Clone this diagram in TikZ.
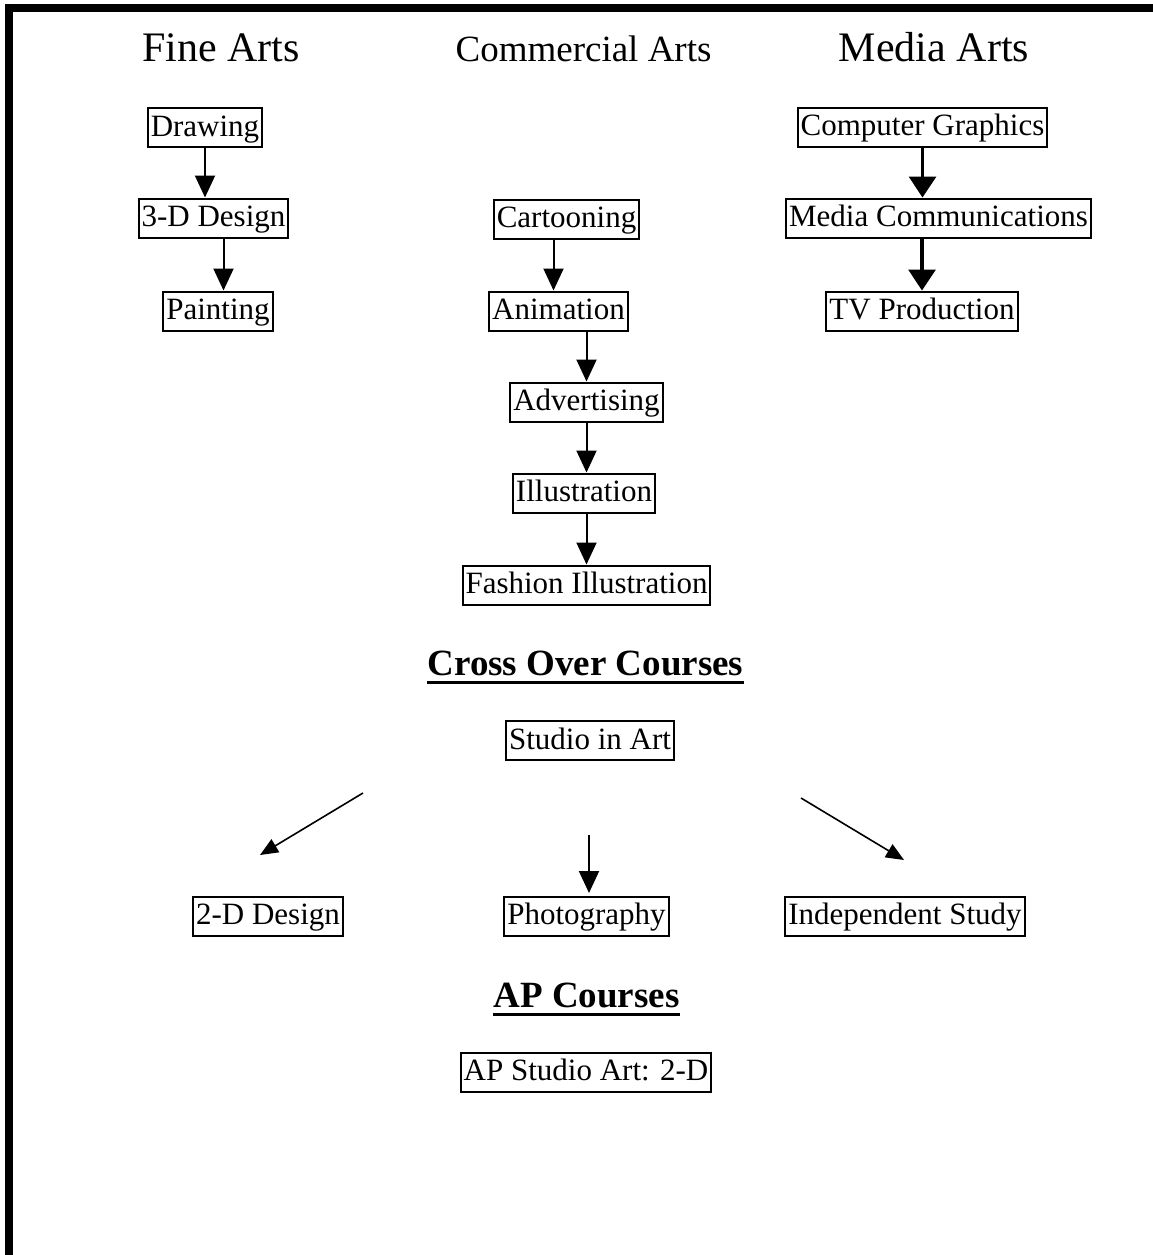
\documentclass[tikz,border=0pt]{standalone}
\usepackage{fontspec}
\setmainfont{Liberation Serif}
\usetikzlibrary{arrows.meta}
\begin{document}
\begin{tikzpicture}[x=1pt,y=-1pt,
  box/.style={draw,line width=2pt,inner xsep=3pt,inner ysep=1pt,text height=27pt,text depth=10pt,font=\fontsize{31}{36}\selectfont},
  head/.style={anchor=base,inner sep=0pt,font=\fontsize{42}{48}\selectfont},
  bhead/.style={anchor=base,inner sep=0pt,font=\fontsize{37}{44}\selectfont\bfseries},
  arr/.style={-{Triangle[length=22pt,width=20pt]},line width=2pt},
  barr/.style={-{Triangle[length=21pt,width=27pt]},line width=3.2pt},
  tarr/.style={-{Triangle[length=18pt,width=15pt]},line width=1.6pt},
  uline/.style={line width=3pt}]
\useasboundingbox (0,0) rectangle (1153,1255);
% page frame
\fill (5,4) rectangle (13,1255);
\fill (5,4) rectangle (1153,12);
% column headings
\node[head] (hfine) at (221,62) {Fine Arts};
\node[head,font=\fontsize{37}{44}\selectfont] (hcomm) at (583.5,62) {Commercial Arts};
\node[head] (hmedia) at (934,62) {Media Arts};
% Fine Arts
\node[box] (draw) at (205,127.5) {Drawing};
\node[box] (d3) at (213.5,218) {3-D Design};
\node[box] (paint) at (218,311) {Painting};
\draw[arr] (draw.south) -- (draw.south |- d3.north);
\draw[arr] ([xshift=10pt]d3.south) -- ([xshift=10pt]d3.south |- paint.north);
% Commercial Arts
\node[box] (cart) at (566.5,219) {Cartooning};
\node[box] (anim) at (558.5,311) {Animation};
\node[box] (adv) at (586.5,402) {Advertising};
\node[box] (ill) at (584,493) {Illustration};
\node[box] (fash) at (586.5,585) {Fashion Illustration};
\draw[arr] ([xshift=-13pt]cart.south) -- ([xshift=-13pt]cart.south |- anim.north);
\draw[arr] (adv.north |- anim.south) -- (adv.north);
\draw[arr] (adv.south) -- (adv.south |- ill.north);
\draw[arr] (fash.north |- ill.south) -- (fash.north);
% Media Arts
\node[box] (cg) at (922.5,127) {Computer Graphics};
\node[box] (mc) at (938.5,218) {Media Communications};
\node[box] (tv) at (922,311) {TV Production};
\draw[barr] (cg.south) -- (cg.south |- mc.north);
\draw[barr] (tv.north |- mc.south) -- (tv.north);
% Cross Over Courses
\node[bhead] (cross) at (585.5,675) {Cross Over Courses};
\draw[uline] ([yshift=-7pt]cross.base west) -- ([yshift=-7pt]cross.base east);
\node[box] (studio) at (590,740.5) {Studio in Art};
\node[box] (d2) at (268,916) {2-D Design};
\node[box] (photo) at (586.5,916) {Photography};
\node[box] (indep) at (905,916) {Independent Study};
\coordinate (la) at (363,793);
\coordinate (lb) at (260,855);
\coordinate (ma) at (589,835);
\coordinate (mb) at (589,893);
\coordinate (ra) at (801,798);
\coordinate (rb) at (904,860);
\draw[tarr] (la) -- (lb);
\draw[arr] (ma) -- (mb);
\draw[tarr] (ra) -- (rb);
% AP Courses
\node[bhead] (ap) at (586.5,1007) {AP Courses};
\draw[uline] ([yshift=-7pt]ap.base west) -- ([yshift=-7pt]ap.base east);
\node[box] (apstudio) at (586,1072) {AP Studio Art: 2-D};
\end{tikzpicture}
\end{document}
